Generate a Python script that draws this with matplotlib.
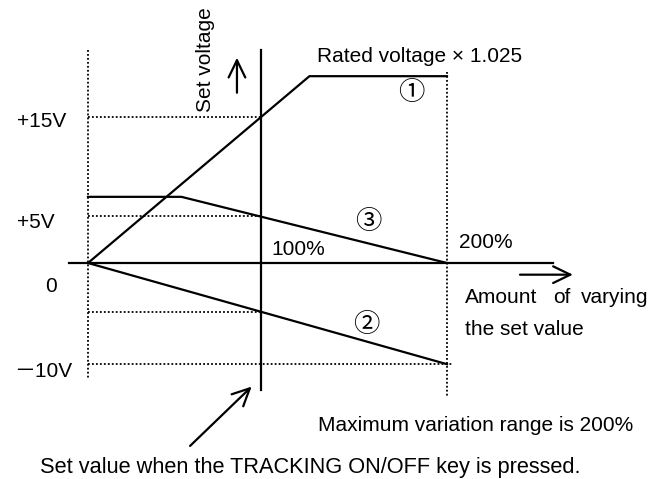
import matplotlib
matplotlib.use("Agg")
import matplotlib.pyplot as plt

plt.rcParams['font.family'] = ['Liberation Sans', 'Noto Sans CJK JP', 'DejaVu Sans']

# x in % of the set value, y in volts (schematic)
track_pct = 100          # set value when TRACKING key pressed
max_pct = 207.5          # maximum variation range (drawn position)

line1_x = [0, 128, 207.5]      # (1) rises to rated voltage x 1.025
line1_y = [0, 19.2, 19.2]
line2_x = [0, 207.5]           # (2) negative output
line2_y = [0, -10.4]
line3_x = [0, 54, 207.5]       # (3)
line3_y = [6.8, 6.8, 0]

ref_levels = [15, 4.8, -5, -10.4]       # dotted guide levels
ref_ends = [100, 100, 100, 211]
volt_labels = ['+15V', '+5V', '0', '－10V']
pct_labels = ['100%', '200%']

fig = plt.figure(figsize=(6.61, 4.79), dpi=100)
ax = fig.add_axes([0, 0, 1, 1])
ax.axis('off')
# 1.73 px per %, 9.73 px per V, origin at pixel (88, 263)
ax.set_xlim(-88 / 1.73, (661 - 88) / 1.73)
ax.set_ylim(-(479 - 263) / 9.73, 263 / 9.73)

lw = 1.6
dot = dict(color='black', lw=1.3, linestyle=(0, (1, 1.2)))

# dotted guides
ax.plot([0, 0], [21.9, -11.8], **dot)
ax.plot([max_pct, max_pct], [19.6, -13.8], **dot)
for lev, end in zip(ref_levels, ref_ends):
    ax.plot([0, end], [lev, lev], **dot)

# axes
ax.plot([-11, 268.8], [0, 0], color='black', lw=lw)
ax.plot([track_pct, track_pct], [21.9, -13.05], color='black', lw=lw)

# the three curves
ax.plot(line1_x, line1_y, color='black', lw=lw)
ax.plot(line2_x, line2_y, color='black', lw=lw)
ax.plot(line3_x, line3_y, color='black', lw=lw)

arrow = dict(arrowstyle='->,head_length=0.62,head_width=0.3', lw=1.6,
             color='black', shrinkA=0, shrinkB=0, mutation_scale=20)
ax.annotate('', xy=(86.1, 21.1), xytext=(86.1, 17.5), arrowprops=arrow)
ax.annotate('', xy=(280.3, -1.2), xytext=(249.7, -1.2), arrowprops=arrow)
ax.annotate('', xy=(94.6, -12.7), xytext=(59, -18.8), arrowprops=arrow)

fs = 15
bl = dict(fontsize=fs, va='baseline')
ax.text(-41.0, 13.98, volt_labels[0], ha='left', **bl)
ax.text(-41.0, 3.60, volt_labels[1], ha='left', **bl)
ax.text(-21.4, -2.98, volt_labels[2], ha='center', **bl)
ax.text(-42.8, -11.75, volt_labels[3], ha='left', **bl)

ax.text(105.8, 0.82, pct_labels[0], ha='left', **bl)
ax.text(214.5, 1.54, pct_labels[1], ha='left', **bl)

ax.text(68.2, 20.86, 'Set voltage', fontsize=fs, rotation=90, ha='center', va='center')
ax.text(132.4, 20.69, 'Rated voltage × 1.025', ha='left', **bl)

cs = 19
ax.text(186.7, 17.47, '①', fontsize=cs, ha='center', va='center')
ax.text(161.8, 4.21, '③', fontsize=cs, ha='center', va='center')
ax.text(160.7, -6.37, '②', fontsize=cs, ha='center', va='center')

ax.text(217.9, -4.11, 'Amount', ha='left', **bl)
ax.text(268.8, -4.11, 'of', ha='left', **bl)
ax.text(323.7, -4.11, 'varying', ha='right', **bl)
ax.text(217.9, -7.40, 'the set value', ha='left', **bl)

ax.text(132.9, -17.24, 'Maximum variation range is 200%', ha='left', **bl)
ax.text(-27.7, -21.58, 'Set value when the TRACKING ON/OFF key is pressed.',
        ha='left', fontsize=15.7, va='baseline')

fig.savefig('out.png', dpi=100)
